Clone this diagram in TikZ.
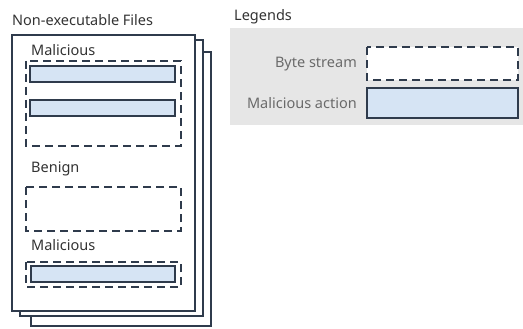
\documentclass[tikz,border=0pt]{standalone}
\usepackage{fontspec}
\setmainfont{Noto Sans}
\definecolor{ln}{HTML}{2F3B4C}
\definecolor{bluefill}{HTML}{D6E4F4}
\definecolor{legbg}{HTML}{E6E6E6}
\definecolor{txt}{HTML}{333333}
\definecolor{txtg}{HTML}{6A6A6A}
\begin{document}
\begin{tikzpicture}[x=1pt,y=-1pt,
  page/.style={draw=ln,line width=1.6pt,fill=white},
  bytebox/.style={draw=ln,line width=2pt,dash pattern=on 8pt off 5pt},
  actbox/.style={draw=ln,line width=2pt,fill=bluefill},
  lbl/.style={font=\fontsize{14.5}{17}\selectfont,text=txt,inner sep=0pt},
  leglbl/.style={font=\fontsize{14.5}{17}\selectfont,text=txtg,inner sep=0pt,anchor=east}]
\useasboundingbox (0,0) rectangle (523,329);
% pages
\draw[page] (31,52) rectangle (211,326);
\draw[page] (20,40) rectangle (203,316);
\draw[page] (12,35) rectangle (195,311);
\node[lbl,anchor=west] (title) at (12,20) {Non-executable Files};
% malicious 1
\node[lbl,anchor=west] (m1) at (31,50) {Malicious};
\draw[bytebox] (26,61) rectangle (181,146);
\draw[actbox] (30,66) rectangle (175,82);
\draw[actbox] (30,100) rectangle (175,116);
% benign
\node[lbl,anchor=west] (b1) at (31,169) {Benign};
\draw[bytebox] (26,187) rectangle (181,231);
% malicious 2
\node[lbl,anchor=west] (m2) at (31,245) {Malicious};
\draw[bytebox] (26,262) rectangle (181,287);
\draw[actbox] (31,266) rectangle (175,282);
% legend
\node[lbl,anchor=west] (leg) at (234,17) {Legends};
\fill[legbg] (230,28) rectangle (523,125);
\node[leglbl] (bs) at (357,64) {Byte stream};
\draw[bytebox,fill=white] (367,47) rectangle (518,80);
\node[leglbl] (ma) at (357,103) {Malicious action};
\draw[actbox] (367,88) rectangle (518,118);
\end{tikzpicture}
\end{document}
